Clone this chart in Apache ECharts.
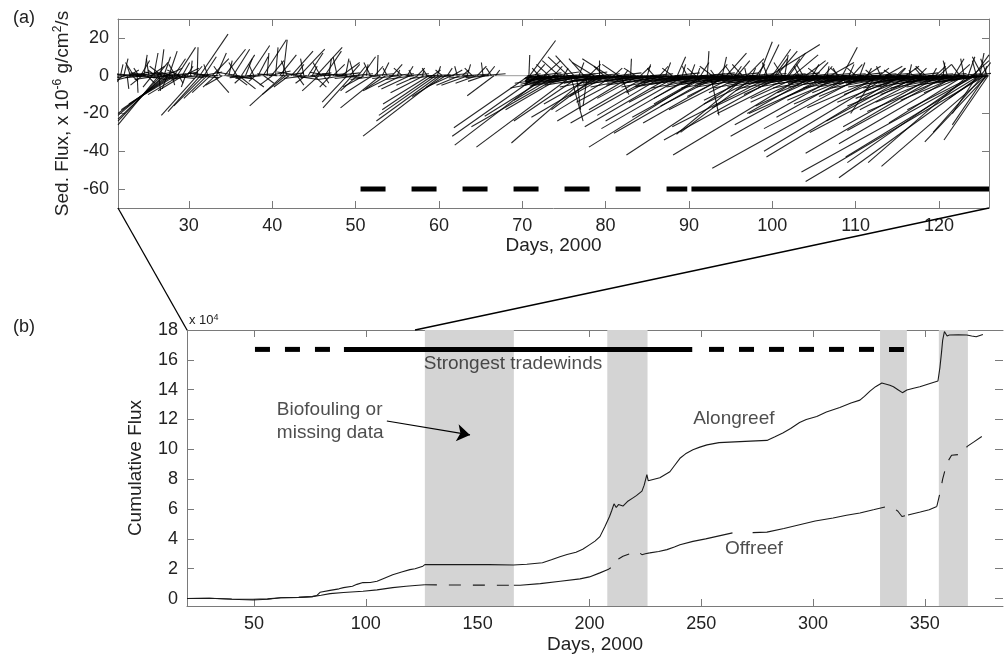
<!DOCTYPE html>
<html><head><meta charset="utf-8">
<script src="https://cdn.jsdelivr.net/npm/echarts@6/dist/echarts.min.js"></script>
<style>html,body{margin:0;padding:0;background:#fff}#c{width:1007px;height:656px}</style>
</head><body><div id="c"></div>
<script>
// ---------- DATA ----------
const topTicksX = [30,40,50,60,70,80,90,100,110,120];
const topTicksY = [-60,-40,-20,0,20];
const botTicksX = [50,100,150,200,250,300,350];
const botTicksY = [0,2,4,6,8,10,12,14,16,18];
const topRange = [21.5,126];
const zoomLanding = [20,122];

// sticks: [day, u (days), v (x1e-6 g/cm2/s)]
const sticks = [
[21.8,0.3,6],[22.0,-0.8,-4],[22.2,0.5,9],[22.4,-1.8,-2],[22.6,0.2,-7],[22.8,1.2,3],[23.0,-0.4,5],[23.2,0.7,-3],[23.4,-1.0,7],[23.6,1.6,2],[23.8,0.1,-9],[24.0,-0.6,4],[24.2,1.1,8],[24.4,-1.4,-5],[24.6,0.4,11],[24.8,-2.0,1],[25.0,0.9,-4],[25.2,-0.3,9],[25.4,1.7,5],[25.6,-1.1,-6],[25.8,0.5,12],[26.0,-0.9,3],[26.2,1.3,7],[26.4,0.2,-8],[26.6,0.4,14],[26.8,-1.5,5],[27.0,0.8,10],[27.2,2.0,4],[27.4,-0.6,-7],[27.6,1.0,13],[27.8,-1.2,2],[28.0,0.3,-5],[28.2,1.4,9],[28.4,-0.8,6],[28.6,2.2,15],[28.8,0.5,-4],[29.0,-1.6,3],[29.2,0.9,7],[29.4,1.8,4],[29.6,-0.5,-6],[29.8,0.7,5],
[26.4,-4.9,-26],[26.7,-5.2,-24],[27.0,-5.5,-23],[27.2,-5.7,-21],[27.5,-6.0,-20],[27.8,-5.9,-18],[28.1,-5.3,-15],[28.4,-4.5,-12],[28.9,-3.8,-10],[29.3,-3.0,-8],
[21.7,-2,-1.5],[22.1,2.5,1],[22.5,-2.8,2],[22.9,3,-1],[23.3,-2.2,-2.5],[23.7,2.6,1.5],[24.1,-3,1],[24.5,2.8,-2],[24.9,-2.5,-1],[25.3,3,2],[25.7,-2.7,1.5],[26.1,2.4,-1.5],[26.5,-3,-2],[26.9,2.8,1],[27.3,-2.6,2],[27.7,3,-1.5],[28.1,-2.4,-1],[28.5,2.6,2],[28.9,-3,1.5],[29.3,2.5,-1],[29.7,-2.8,-2],
[31.0,-4.3,-21],[31.4,-3.9,-19],[31.8,-3.6,-16],[32.2,-2.8,-12],[32.6,-2.2,-9],[33.2,-1.5,-6],[34.0,-2.0,-5],[35.5,1.5,-5],[36.5,-1.0,-4],[37.2,1.8,-6],[38.0,-0.8,-3],[39.0,1.2,-4],[40.0,-1.5,-5],[41.3,-4.0,-16],[41.6,-2.8,-10],[42.0,-1.8,-6],[43.0,0.8,-5],[44.0,-1.2,-4],[45.0,1.5,-6],[45.6,-2.0,-8],[46.2,0.6,-4],[47.0,-1.3,-6],[33.0,1.8,-9],[36.0,2.0,-7],
[30.2,0.2,8],[30.6,1.0,5],[31.0,0.1,15],[31.3,3.4,22],[31.8,1.5,10],[32.3,-0.5,6],[32.8,2.0,9],[33.3,1.2,12],[33.8,-0.8,5],[34.3,2.5,14],[34.8,0.4,8],[35.3,2.0,14],[35.8,-1.0,7],[36.3,1.6,11],[36.8,0.8,9],[37.3,2.4,16],[37.8,-0.6,6],[38.3,1.2,10],[38.9,2.8,19],[39.4,0.2,12],[39.9,1.5,8],[40.4,0.3,15],[40.9,2.0,11],[41.3,0.5,19],[41.8,-0.7,8],[42.3,2.6,13],[42.8,1.0,6],[43.3,3.0,14],[43.8,-0.4,9],[44.3,1.8,12],[44.8,0.6,5],[45.3,3.1,15],[45.8,-0.9,7],[46.3,2.0,13],[46.8,0.3,9],[47.3,1.4,6],[47.8,-0.5,10],[48.3,2.2,7],
[30.4,-2.5,-2],[31.5,2.5,2],[33.5,-3,1],[34.5,3,-1.5],[36,-2.8,2],[37,3.2,1],[38.6,-3,-1.5],[39.6,2.6,2.5],[40.6,-2.4,1],[42.5,3,-2],[43.6,-3,2],[44.6,2.5,1.5],[46,-2.6,-1],[47.5,3,1.5],[48.5,-3,-2],[49.5,2.6,1],
[30.8,2.8,-1],[32.4,-2.5,1.5],[35,2.6,-1.5],[37.6,-2.7,-1],[41,2.8,1.5],[44.2,-2.8,-1.5],[45.8,3,1],[47,-2.5,1.8],[48,2.8,-1],[49,-3,1],
[48.8,0.4,9],[49.3,1.2,6],[49.8,-0.5,8],[50.3,0.9,5],[50.8,1.6,10],[51.3,0.2,6],[51.8,-0.8,7],[52.3,1.0,5],[52.6,0.1,11],[53.2,0.8,7],[53.8,-0.5,4],[54.4,1.2,6],[55.0,0.3,3],[55.6,-1.0,4],[56.2,0.7,5],[56.8,-0.4,3],[57.4,0.9,4],[58.0,0.2,2.5],[58.6,-0.6,4],[59.2,1.0,3],[59.8,0.4,5],[60.4,-0.8,3],[61.0,0.6,4],[61.6,1.2,3],[62.2,-0.3,5],[62.8,0.8,3],[63.4,0.4,6],[64.0,-0.9,4],[64.6,1.1,5],[65.3,-0.2,7],[65.8,0.9,5],[66.3,-0.6,4],[66.8,0.5,3],
[49.0,-3.0,-14],[49.6,-3.5,-17],[50.2,-2.0,-8],[51.0,-2.5,-6],[52.0,-3.2,-9],[53.0,-4.8,-17],[53.6,-2.4,-7],[54.5,-3.6,-8],[55.5,-2.8,-6],[56.5,-3.4,-7],[57.5,-2.6,-5],[58.2,-4.0,-9],[58.8,-5.5,-15],[59.2,-6.0,-18],[59.6,-6.8,-21],[60.0,-7.5,-24],[60.3,-9.4,-32],[60.8,-4.0,-11],[61.5,-3.0,-6],[62.5,-2.8,-5],[63.5,-3.2,-5],[64.5,-2.5,-4],[65.5,-2.0,-3],[66.6,-3.2,-10.6],
[50.5,-3.0,-1.5],[51.6,3.0,1],[52.9,-3.5,-2],[54,3,1],[55.2,-3.2,-1.5],[56,2.8,1],[57,-3.4,-2],[58.4,3,0.5],[59.5,-3,-1.5],[60.6,2.8,1],[61.8,-3,-1],[62.9,3,0.8],[64.2,-3,-1.2],[65,3,1],[66,-2.8,-1],
[70.8,0.1,11],[70.9,3.1,18.6],[71.5,1.2,6],[72.0,-0.8,4],[72.6,2.0,8],[73.2,-1.5,6],[73.8,1.0,5],[74.4,-2.0,8],[75.0,0.5,4],[75.5,-2.4,10],[76.2,-2.2,10.6],[76.8,0.6,7],[77.4,-1.8,9],[78.0,1.4,6],[78.6,-2.6,7],[79.2,0.0,8],[79.8,-1.2,5],[80.4,-3.2,9],[81.0,1.0,4],[81.6,-2.0,6],[82.2,0.5,3],[83.0,0.1,9],[83.6,-1.4,4],[84.2,1.2,5],[85.0,0.4,6],[85.8,-0.8,4],[86.5,1.0,5],[87.2,0.6,7],[88.0,-1.2,4],[88.6,1.0,10],[89.2,0.4,6],[89.8,-0.6,5],
[70.8,-9.0,-27.5],[71.9,-10.3,-32],[72.8,-10.9,-36.7],[73.3,-7.8,-21.5],[74.0,-5.0,-13],[74.6,-10.7,-27],[75.0,-7.0,-18],[75.8,1.5,-24],[76.0,-11.5,-37.8],[76.5,0.5,-18],[77.0,-8.0,-24],[77.8,-0.5,-16],[78.0,-9.3,-35.6],[78.6,-6.0,-15],[79.0,-5.5,-18],[79.6,-8.5,-22],[80.2,-4.5,-11],[81.0,-7.0,-19],[81.8,1.0,-10],[82.5,-6.0,-14],[83.2,-9.0,-24],[84.0,-5.0,-12],[85.0,-7.0,-18],[85.8,-10.0,-25],[86.5,-4.0,-9],[87.0,-8.0,-21],[88.0,-10.5,-27],[88.8,-6.0,-14],[89.5,-9.5,-24],
[70.6,2,-1],[71.2,-0.8,-2.5],[71.7,3,1.5],[72.3,-2,-2.5],[72.9,-2.5,-3.5],[73.6,3.2,2],[74.2,-3.8,-3],[74.8,-5,-4.5],[75.3,3.5,1],[75.9,-4.2,-2],[76.6,-5.5,-5],[77.2,3,2],[77.7,-4,-3.5],[78.3,-5,-2],[78.9,2.8,1],[79.5,-4.5,-4],[80.0,-3.5,-1.5],[80.7,-5,-3],[81.3,3,1.5],[81.9,-4,-2.5],[82.8,-5.5,-4],[83.4,-3.8,-1.5],[84.5,-4.5,-3],[85.3,2.8,1],[86.0,-5,-3.5],[86.8,-4,-2],[87.6,-5.5,-4],[88.3,3,1.5],[89.0,-4.5,-3],
[70.7,1.5,1],[71.0,-0.6,-3],[71.4,-1,-1],[71.9,-1.5,-4],[72.1,-1.6,-1.5],[72.5,-2.2,-4.5],[73.0,-2.6,-1],[73.4,-3,-3.5],[73.9,-3.5,-2.5],[74.3,-4,-5],[74.7,-4.5,-1.5],[75.1,-6,-4],[75.6,-5,-2],[76.1,-7.5,-6.5],[76.4,-4,-1],[76.9,-6,-4],[77.3,-5,-2.5],[77.9,-7,-5.5],[78.2,-4,-1.5],[78.8,-6,-3.5],[79.3,-5,-2],[79.7,-7,-5],[80.1,-4,-1],[80.6,-6,-4],[81.1,-5,-2.5],[81.5,-7,-6],[82.0,-4.5,-1.5],[82.4,-6,-3],[82.9,-5,-2],[83.5,-7,-5.5],[83.9,-4,-1],[84.3,-6,-4],[84.8,-5,-2.5],[85.2,-7,-6],[85.6,-4.5,-1.5],[86.2,-6,-3.5],[86.6,-5,-2],[87.1,-7,-5],[87.4,-4,-1],[87.9,-6,-4],[88.4,-5,-2.5],[88.9,-7,-6],[89.3,-4.5,-1.5],[89.7,-6,-3.5],
[91.7,-13.7,-37.8],[93,-12,-30.5],[97,-14.5,-42],[90.5,-11,-28],[92.2,-9,-22],[94.5,-10,-25],
[90.2,0.5,6],[90.8,-1.0,4],[91.4,1.0,7],[92.2,0.2,13],[92.8,-1.5,5],[93.4,1.2,6],[94.0,0.5,10],[94.5,2.4,12],[95.2,-0.8,5],[95.8,1.5,8],[96.4,-1.2,6],[97.0,2.0,9],[97.6,0.4,4],[98.4,1.6,18],[99.0,1.8,16.5],[99.7,6.0,16.5],[100.0,2.2,14],[100.5,2.5,13],[101.2,-1.0,7],[101.8,1.5,9],[102.5,3.0,11],[103.2,-0.6,5],[104.0,2.4,8],[104.8,0.8,6],[105.5,-1.2,4],[106.2,1.0,5],[107.0,2.8,7],[107.8,-0.5,4],[108.4,1.8,15],[109.2,0.6,6],[110.0,-1.0,4],[110.5,0.6,7],[111.2,1.8,5],[112.0,-0.8,3],[112.8,1.2,4],[113.6,2.0,5],[114.4,-1.0,3],[115.2,0.8,4],[116.0,1.6,5],[116.8,-0.4,3],[117.6,0.9,4],[118.4,-1.2,5],[119.2,0.5,4],[120.0,1.5,6],[121.0,-0.5,8],[121.8,1.2,9],[122.5,-1.0,6],[123.5,0.8,10],[124.0,2.0,8],[124.5,-0.5,8],[125.0,1.2,7],[125.5,0.2,5],[125.8,-0.8,9],
[91.0,0.3,4],[93.1,-0.5,3],[95.5,0.8,5],[96.9,-0.2,4],[98.1,1.0,6],[99.4,-0.6,7],[100.3,1.5,9],[101.5,0.4,11],[102.0,2.0,12],[103.7,-0.8,6],[105.2,1.5,7],[106.6,0.2,5],[108.0,-1.0,4],[109.6,1.2,6],[111.4,0.5,4],[113.0,-0.5,5],[114.9,1.0,4],[116.4,0.3,6],[117.9,-0.8,4],[119.6,1.2,5],[120.5,0.2,7],[122.2,1.5,6],[123.0,-0.4,9],[124.2,1.8,11],[124.9,0.5,12],[125.2,-1.2,10],
[97.0,-8.5,-31],[98.0,-9.0,-30],[100.0,-12.0,-27],[101.0,-14.0,-34],[103.9,-15.8,-42],[105.0,-8.0,-20],[106.5,-11.0,-26],[108.0,-13.0,-32],[109.5,-9.0,-22],[111.0,-12.0,-28],[112.9,-20.1,-49],[114.0,-15.0,-40],[115.4,-16.1,-43],[116.5,-10.0,-24],[117.5,-13.0,-30],[118.5,-8.0,-18],[119.5,-11.0,-27],[120.0,-16.0,-41],[121.0,-12.0,-29],[122.0,-14.0,-36],[123.0,-9.0,-25],[123.5,-12.0,-46],[124.0,-15.0,-46],[124.4,-20.9,-51],[124.8,-16.0,-43],[125.0,-17.0,-54],[125.5,-21.5,-56],[125.7,-12.6,-48],[125.8,-7.5,-35],[125.9,-5.3,-34],[125.6,-4.0,-26],[125.3,-6.0,-30],[124.6,-3.0,-20],
[90.8,-5,-12],[91.8,-6,-15],[92.6,1,-21],[93.6,-7,-16],[94.8,-5,-11],[95.6,-8,-18],[96.4,-4,-9],[97.8,-6,-13],[98.8,-7,-15],[99.6,-4,-8],[100.8,-8,-17],[101.6,-5,-10],[102.4,-9,-20],[103.4,-6,-12],[104.4,-7,-14],[105.6,-5,-9],[106.0,-8,-16],[107.2,-10,-20],[107.8,-6,-11],[108.8,-7,-13],[109.8,-5,-9],[110.6,-8,-15],[111.6,-6,-11],[112.4,-3,-20],[113.2,-9,-17],[114.6,-6,-10],[115.8,-8,-14],[116.2,-5,-8],[117.0,-7,-12],[118.0,-9,-16],[119.0,-6,-10],[120.4,-8,-14],[121.4,-10,-19],[122.4,-7,-13],[123.2,-5,-9],[124.2,-8,-18],[125.2,-4,-12],
[90.4,-4,-2],[90.9,-5,-3],[91.3,3,1],[91.7,-4.5,-2.5],[92.1,-6,-4],[92.5,3,1.5],[93.0,-5,-2],[93.3,-4,-3.5],[93.8,2.5,1],[94.2,-5.5,-2.5],[94.6,-4,-1.5],[95.0,-6,-4],[95.4,3,1.5],[95.9,-5,-2],[96.2,-4.5,-3],[96.7,-6,-4.5],[97.2,3,1],[97.5,-5,-2.5],[98.0,-4,-1.5],[98.6,-6,-3.5],[99.2,2.5,1.2],[99.5,-5.5,-3],[100.2,-4,-2],[100.6,-6,-4],[101.0,3,1],[101.4,-5,-2.5],[101.9,-4.5,-3.5],[102.2,-6,-2],[102.7,3,1.5],[103.0,-5,-3],[103.6,-4,-1.5],[104.1,-6.5,-4],[104.6,2.8,1],[105.0,-5,-2.5],[105.4,-4,-2],[105.9,-6,-3.5],[106.4,3,1.2],[106.8,-5,-3],[107.4,-4.5,-2],[107.9,-6,-4],[108.2,3,1],[108.6,-5,-2.5],[109.0,-4,-3],[109.5,-6,-2],[110.2,3,1.5],[110.8,-5,-3.5],[111.0,-4.5,-2],[111.5,-6,-4],[111.9,3,1],[112.2,-5,-2.5],[112.6,-4,-3],[113.0,-6,-2],[113.5,2.8,1.2],[113.9,-5,-3.5],[114.2,-4.5,-2],[114.8,-6,-4],[115.0,3,1],[115.5,-5,-2.5],[115.9,-4,-3],[116.4,-6,-2],[116.9,3,1.5],[117.3,-5,-3.5],[117.8,-4.5,-2],[118.2,-6,-4],[118.7,3,1],[119.0,-5,-2.5],[119.4,-4,-3],[119.8,-6,-2],[120.3,3,1.2],[120.7,-5,-3.5],[121.2,-4.5,-2],[121.6,-6,-4],[122.0,3,1],[122.3,-5,-2.5],[122.8,-4,-3],[123.3,-6,-2],[123.8,3,1.5],[124.3,-5,-3.5],[124.9,-4.5,-2],[125.4,-6,-4],[125.9,-3,-1.5],
[90.1,-6,-4],[90.6,-7,-5.5],[91.1,-5,-2],[91.5,-8,-6],[92.0,-4,-1.5],[92.4,-7,-4.5],[92.9,-5,-2.5],[93.5,-8,-6.5],[93.9,-4.5,-1.5],[94.4,-7,-4],[94.9,-5,-2],[95.3,-8,-6],[95.7,-4,-1.5],[96.1,-7,-4.5],[96.6,-5,-2.5],[97.1,-8,-6.5],[97.4,-4.5,-1.5],[97.9,-7,-4],[98.3,-5,-2],[98.9,-8,-6],[99.3,-4,-1.5],[99.8,-7,-4.5],[100.4,-5,-2.5],[100.9,-8,-6.5],[101.3,-4.5,-1.5],[101.7,-7,-4],[102.1,-5,-2],[102.6,-8,-6],[103.1,-4,-1.5],[103.5,-7,-4.5],[103.9,-5,-2.5],[104.3,-8,-6.5],[104.9,-4.5,-1.5],[105.3,-7,-4],[105.8,-5,-2],[106.3,-8,-6],[106.7,-4,-1.5],[107.1,-7,-4.5],[107.6,-5,-2.5],[108.1,-8,-6.5],[108.5,-4.5,-1.5],[108.9,-7,-4],[109.4,-5,-2],[109.9,-8,-6],[110.3,-4,-1.5],[110.7,-7,-4.5],[111.3,-5,-2.5],[111.7,-8,-6.5],[112.1,-4.5,-1.5],[112.5,-7,-4],[112.9,-5,-2],[113.4,-8,-6],[113.8,-4,-1.5],[114.3,-7,-4.5],[114.7,-5,-2.5],[115.1,-8,-6.5],[115.6,-4.5,-1.5],[116.1,-7,-4],[116.6,-5,-2],[117.1,-8,-6],[117.5,-4,-1.5],[117.9,-7,-4.5],[118.3,-5,-2.5],[118.9,-8,-6.5],[119.3,-4.5,-1.5],[119.7,-7,-4],[120.1,-5,-2],[120.6,-8,-6],[121.1,-4,-1.5],[121.5,-7,-4.5],[121.9,-5,-2.5],[122.2,-8,-6.5],[122.7,-4.5,-1.5],[123.1,-7,-4],[123.6,-5,-2],[124.1,-8,-6],[124.7,-4,-1.5],[125.1,-7,-4.5],[125.7,-5,-2.5]
];

// bars (day ranges) at given level
const topBarLevel = -60;
const topBarDashed = [50.6, 89.8];
const topBarSolid = [90.3, 126];
const botBarLevel = 16.7;
const botBarDashedA = [50.4, 86.2];
const botBarSolid = [90.2, 246];
const botBarDashedB = [253.5, 340.7];

// cumulative flux (x 1e4)
const alongreef = [[20,0],[30,0.02],[40,-0.05],[49.5,-0.1],[56,-0.05],[62,0.05],[70,0.08],[76,0.13],[78,0.2],[79.5,0.42],[84,0.55],[88,0.65],[90,0.73],[94,0.82],[96,0.95],[98.7,1.07],[102,1.08],[105,1.16],[108,1.35],[112,1.6],[116,1.78],[119.7,1.94],[122,2.0],[125.5,2.17],[126.4,2.27],[140,2.27],[155,2.27],[166,2.25],[172,2.3],[179,2.4],[183,2.6],[186.8,2.8],[190,2.95],[194,3.1],[197,3.3],[200,3.6],[202.5,3.85],[204.7,4.15],[207,4.84],[209,5.5],[210,5.9],[211,6.35],[212,6.1],[213,6.3],[215,6.2],[217,6.5],[219.5,6.75],[221,6.9],[223.5,7.2],[224.5,7.6],[225.7,8.3],[226.3,7.9],[227,7.85],[231.5,8.1],[236,8.5],[238,8.9],[240.5,9.4],[243,9.7],[246.3,9.97],[249.4,10.15],[252.6,10.3],[258,10.45],[265,10.5],[272,10.55],[279.4,10.6],[283,10.85],[286.5,11.1],[290,11.4],[294,11.8],[297,12.0],[301.7,12.2],[306,12.5],[312,12.8],[317,13.1],[321,13.3],[323,13.55],[325.5,13.9],[328,14.2],[330.8,14.45],[332,14.4],[334.4,14.3],[336,14.2],[338,14.0],[340,13.8],[342,13.98],[345,14.1],[347.8,14.2],[352,14.4],[355.9,14.58],[356.8,15.5],[357.5,16.5],[358,17.3],[358.8,17.9],[359.4,17.95],[360,17.6],[361,17.66],[365,17.68],[368.8,17.66],[371,17.6],[373,17.55],[376,17.7]];
const offreef = [[20,0],[30,0.02],[40,-0.03],[49.5,-0.05],[56,-0.02],[62,0.05],[70,0.08],[76,0.13],[80,0.22],[84,0.33],[90,0.4],[98.7,0.49],[105,0.58],[112,0.73],[118,0.82],[122,0.87],[126.4,0.92],[145,0.9],[166.2,0.89],[169,0.89],[178,1.0],[187,1.16],[195.8,1.32],[200,1.45],[204.7,1.72],[208.3,1.94],[210,2.1],[211.4,2.5],[213,2.65],[215,2.83],[218,3.0],[221.3,3.16],[222.5,3.05],[223.5,2.94],[225,3.0],[227,3.06],[231,3.15],[234.7,3.28],[238,3.45],[240.5,3.6],[246.3,3.83],[252,4.0],[258,4.2],[264,4.4],[268,null],[273,4.42],[279.4,4.45],[287,4.7],[294,4.95],[301,5.2],[309,5.4],[315,5.58],[321,5.73],[327,5.95],[333,6.17],[335.7,6.1],[338,5.85],[339.8,5.5],[342.5,5.6],[348,5.8],[352,5.95],[355.4,6.17],[356.8,7.07],[358,8.0],[359.9,9.08],[362,9.6],[365,9.65],[367,9.75],[369,10.2],[372,10.5],[375.5,10.86]];
const gapRanges = [[126.4,166.2],[208,226],[330,342],[356.3,369.3]];

// annotations (text, day, value)
const arrowFromTo = [[109.4,11.9],[146.6,10.97]];
const notes = [
  {text:'Strongest tradewinds', day:165.8, val:15.75, align:'center'},
  {text:'Biofouling or\nmissing data', day:60.2, val:11.87, align:'left'},
  {text:'Alongreef', day:264.6, val:12.04, align:'center'},
  {text:'Offreef', day:273.6, val:3.34, align:'center'}
];

// ---------- CHART ----------
const FONT = 'Liberation Sans, Arial, Helvetica, sans-serif';
const AX = '#7a7a7a', TX = '#222';
const chart = echarts.init(document.getElementById('c'), null, {renderer:'canvas'});

function inGap(d){ return gapRanges.some(r => d > r[0] && d < r[1]); }
const offSolid = offreef.map(p => inGap(p[0]) ? [p[0], null] : p);
const offDashed = offreef.map((p,i) => {
  const near = inGap(p[0]) || (i>0 && inGap(offreef[i-1][0])) || (i<offreef.length-1 && inGap(offreef[i+1][0]));
  return near ? p : [p[0], null];
});

function axisBase(extra){
  return Object.assign({
    type:'value', splitLine:{show:false},
    axisLine:{show:true, onZero:false, lineStyle:{color:AX, width:1}},
    axisTick:{show:true, inside:true, length:7, lineStyle:{color:AX}},
    axisLabel:{show:false}
  }, extra);
}
const lbl = (vals)=>({show:true, customValues:vals, color:TX, fontSize:18, fontFamily:FONT, margin:9});

const option = {
  animation:false,
  backgroundColor:'#fff',
  grid:[
    {left:118, top:19, width:871, height:189},
    {left:187, top:330, width:816, height:276}
  ],
  xAxis:[
    axisBase({gridIndex:0, position:'bottom', min:topRange[0], max:topRange[1],
      axisTick:{show:true, inside:true, length:7, customValues:topTicksX, lineStyle:{color:AX}},
      axisLabel:lbl(topTicksX),
      name:'Days, 2000', nameLocation:'middle', nameGap:28,
      nameTextStyle:{fontSize:19, color:TX, fontFamily:FONT}}),
    axisBase({gridIndex:0, position:'top', min:topRange[0], max:topRange[1],
      axisTick:{show:true, inside:true, length:7, customValues:topTicksX, lineStyle:{color:AX}}}),
    axisBase({gridIndex:1, position:'bottom', min:20, max:385,
      axisTick:{show:true, inside:true, length:7, customValues:botTicksX, lineStyle:{color:AX}},
      axisLabel:lbl(botTicksX),
      name:'Days, 2000', nameLocation:'middle', nameGap:29,
      nameTextStyle:{fontSize:19, color:TX, fontFamily:FONT}}),
    axisBase({gridIndex:1, position:'top', min:20, max:385,
      axisTick:{show:true, inside:true, length:7, customValues:botTicksX, lineStyle:{color:AX}}})
  ],
  yAxis:[
    axisBase({gridIndex:0, position:'left', min:-70, max:30,
      axisTick:{show:true, inside:true, length:7, customValues:topTicksY, lineStyle:{color:AX}},
      axisLabel:lbl(topTicksY),
      name:'{a|Sed. Flux, x 10}{s|-6}{a| g/cm}{s|2}{a|/s}', nameLocation:'middle', nameGap:40,
      nameTextStyle:{color:TX, fontFamily:FONT, rich:{
        a:{fontSize:19, color:TX, fontFamily:FONT, lineHeight:22},
        s:{fontSize:12, color:TX, fontFamily:FONT, verticalAlign:'top', lineHeight:14}}}}),
    axisBase({gridIndex:0, position:'right', min:-70, max:30,
      axisTick:{show:true, inside:true, length:7, customValues:topTicksY, lineStyle:{color:AX}}}),
    axisBase({gridIndex:1, position:'left', min:-0.5, max:18,
      axisTick:{show:true, inside:true, length:7, customValues:botTicksY, lineStyle:{color:AX}},
      axisLabel:lbl(botTicksY),
      name:'Cumulative Flux', nameLocation:'middle', nameGap:42,
      nameTextStyle:{fontSize:19, color:TX, fontFamily:FONT}}),
    axisBase({gridIndex:1, position:'right', min:-0.5, max:18,
      axisLine:{show:false, onZero:false},
      axisTick:{show:true, inside:true, length:8, customValues:botTicksY, lineStyle:{color:AX}}})
  ],
  series:[
    // top panel
    {type:'line', xAxisIndex:0, yAxisIndex:0, data:[[topRange[0],0],[topRange[1],0]], symbol:'none',
     lineStyle:{color:'#9a9a9a', width:1}, z:1, silent:true},
    {type:'lines', coordinateSystem:'cartesian2d', xAxisIndex:0, yAxisIndex:0, clip:true, silent:true, z:2,
     data: sticks.map(s => ({coords:[[s[0],0],[s[0]+s[1], s[2]]]})),
     lineStyle:{color:'#000', width:1.1, opacity:0.85}},
    {type:'line', xAxisIndex:0, yAxisIndex:0, data:[[topBarDashed[0],topBarLevel],[topBarDashed[1],topBarLevel]], symbol:'none',
     lineStyle:{color:'#000', width:5, type:[25,26], cap:'butt'}, z:3, silent:true},
    {type:'line', xAxisIndex:0, yAxisIndex:0, data:[[topBarSolid[0],topBarLevel],[topBarSolid[1],topBarLevel]], symbol:'none',
     lineStyle:{color:'#000', width:5, cap:'butt'}, z:3, silent:true},
    // bottom panel: shaded gaps
    {type:'custom', xAxisIndex:2, yAxisIndex:2, data:gapRanges, z:1, silent:true,
     renderItem:function(params, api){
       const p1 = api.coord([api.value(0), 18]);
       const p2 = api.coord([api.value(1), -0.5]);
       return {type:'rect', shape:{x:p1[0], y:p1[1], width:p2[0]-p1[0], height:p2[1]-p1[1]},
               style:{fill:'#d4d4d4'}};
     }},
    {type:'line', xAxisIndex:2, yAxisIndex:2, data:alongreef, symbol:'none', connectNulls:false,
     lineStyle:{color:'#1a1a1a', width:1.1}, z:3, silent:true},
    {type:'line', xAxisIndex:2, yAxisIndex:2, data:offSolid, symbol:'none', connectNulls:false,
     lineStyle:{color:'#1a1a1a', width:1.1}, z:3, silent:true},
    {type:'line', xAxisIndex:2, yAxisIndex:2, data:offDashed, symbol:'none', connectNulls:false,
     lineStyle:{color:'#1a1a1a', width:1.1, type:[12,12]}, z:3, silent:true},
    {type:'line', xAxisIndex:2, yAxisIndex:2, data:[[botBarDashedA[0],botBarLevel],[botBarDashedA[1],botBarLevel]], symbol:'none',
     lineStyle:{color:'#000', width:5, type:[15,15], cap:'butt'}, z:4, silent:true},
    {type:'line', xAxisIndex:2, yAxisIndex:2, data:[[botBarSolid[0],botBarLevel],[botBarSolid[1],botBarLevel]], symbol:'none',
     lineStyle:{color:'#000', width:5, cap:'butt'}, z:4, silent:true},
    {type:'line', xAxisIndex:2, yAxisIndex:2, data:[[botBarDashedB[0],botBarLevel],[botBarDashedB[1],botBarLevel]], symbol:'none',
     lineStyle:{color:'#000', width:5, type:[15,15], cap:'butt'}, z:4, silent:true},
    {type:'lines', coordinateSystem:'cartesian2d', xAxisIndex:2, yAxisIndex:2, silent:true, z:5,
     symbol:['none','arrow'], symbolSize:[9,13],
     data:[{coords:arrowFromTo}], lineStyle:{color:'#000', width:1.2, opacity:1}},
    {type:'scatter', xAxisIndex:2, yAxisIndex:2, silent:true, z:6, symbolSize:0,
     data: notes.map(n => ({value:[n.day, n.val], label:{show:true, position:'inside', formatter:n.text,
        align:n.align, verticalAlign:'middle', fontSize:19, lineHeight:23, color:TX, fontFamily:FONT}}))}
  ]
};
chart.setOption(option);

// connector lines + panel letters
const pA = chart.convertToPixel({xAxisIndex:0, yAxisIndex:0}, [topRange[0], -70]);
const pB = chart.convertToPixel({xAxisIndex:0, yAxisIndex:0}, [topRange[1], -70]);
const qA = chart.convertToPixel({xAxisIndex:2, yAxisIndex:2}, [zoomLanding[0], 18]);
const qB = chart.convertToPixel({xAxisIndex:2, yAxisIndex:2}, [zoomLanding[1], 18]);
chart.setOption({graphic:[
  {type:'line', shape:{x1:pA[0], y1:pA[1], x2:qA[0], y2:qA[1]}, style:{stroke:'#000', lineWidth:1.3}, z:10, silent:true},
  {type:'line', shape:{x1:pB[0], y1:pB[1], x2:qB[0], y2:qB[1]}, style:{stroke:'#000', lineWidth:1.3}, z:10, silent:true},
  {type:'text', left:13, top:9, style:{text:'(a)', fontSize:18, fill:TX, fontFamily:FONT}},
  {type:'text', left:13, top:318, style:{text:'(b)', fontSize:18, fill:TX, fontFamily:FONT}},
  {type:'text', left:qA[0]+2, top:qA[1]-17, style:{text:'{a|x 10}{s|4}', rich:{
      a:{fontSize:13, fill:TX, fontFamily:FONT, lineHeight:14},
      s:{fontSize:9, fill:TX, fontFamily:FONT, verticalAlign:'top', lineHeight:9}}}}
]});
</script></body></html>
